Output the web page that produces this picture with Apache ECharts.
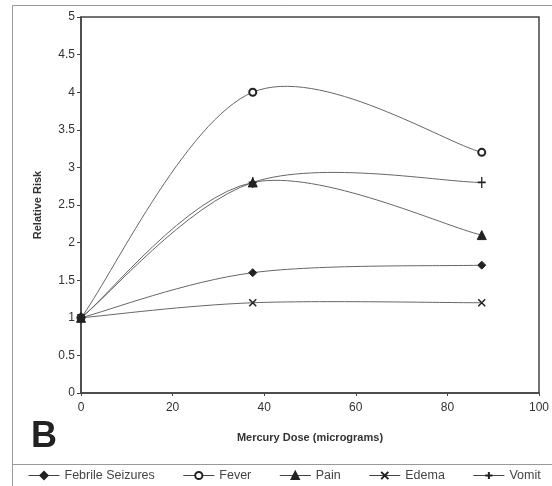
<!DOCTYPE html>
<html>
<head>
<meta charset="utf-8">
<script src="https://cdn.jsdelivr.net/npm/echarts@6/dist/echarts.min.js"></script>
<style>
html,body{margin:0;padding:0;background:#fff;}
#chart{width:552px;height:486px;}
</style>
</head>
<body>
<div id="chart"></div>
<script>
const doses = [0, 37.5, 87.5];
const seriesNames = ['Febrile Seizures', 'Fever', 'Pain', 'Edema', 'Vomit'];
const febrileSeizures = [1, 1.6, 1.7];
const fever = [1, 4, 3.2];
const pain = [1, 2.8, 2.1];
const edema = [1, 1.2, 1.2];
const vomit = [1, 2.8, 2.8];
const xTitle = 'Mercury Dose (micrograms)';
const yTitle = 'Relative Risk';
const panelLabel = 'B';

const values = [febrileSeizures, fever, pain, edema, vomit];
const symbols = [
  {symbol: 'diamond', size: 8, fill: '#222'},
  {symbol: 'emptyCircle', size: 7, fill: '#222'},
  {symbol: 'triangle', size: 9, fill: '#222'},
  {symbol: 'path://M0,0 L10,10 M10,0 L0,10', size: 7, fill: 'none'},
  {symbol: 'path://M5,0 L5,10 M0,5 L10,5', size: [8, 11], fill: 'none'}
];

const font = 'Liberation Sans, Arial, sans-serif';
const chart = echarts.init(document.getElementById('chart'), null, {renderer: 'canvas'});

// Excel-style smoothed segment between data points j and j+1, positioned via the axes
function makeCurveRenderer(vals) {
  return function (params, api) {
    const j = params.dataIndex;
    const n = doses.length;
    if (j >= n - 1) return null;
    const pts = doses.map((d, k) => api.coord([d, vals[k]]));
    const p0 = pts[Math.max(j - 1, 0)];
    const p1 = pts[j];
    const p2 = pts[j + 1];
    const p3 = pts[Math.min(j + 2, n - 1)];
    return {
      type: 'bezierCurve',
      shape: {
        x1: p1[0], y1: p1[1], x2: p2[0], y2: p2[1],
        cpx1: p1[0] + (p2[0] - p0[0]) / 6, cpy1: p1[1] + (p2[1] - p0[1]) / 6,
        cpx2: p2[0] - (p3[0] - p1[0]) / 6, cpy2: p2[1] - (p3[1] - p1[1]) / 6
      },
      style: {stroke: '#666', fill: null, lineWidth: 1},
      silent: true
    };
  };
}

const curveSeries = seriesNames.map((name, i) => ({
  name: 'curve ' + name,
  type: 'custom',
  renderItem: makeCurveRenderer(values[i]),
  data: doses.map((d, j) => [d, values[i][j]]),
  encode: {x: 0, y: 1},
  z: 1,
  silent: true
}));

const markerSeries = seriesNames.map((name, i) => ({
  name: name,
  type: 'line',
  data: doses.map((d, j) => [d, values[i][j]]),
  symbol: symbols[i].symbol,
  symbolSize: symbols[i].size,
  showAllSymbol: true,
  lineStyle: {color: '#666', width: 1, opacity: 0},
  itemStyle: {color: symbols[i].fill, borderColor: '#222', borderWidth: (i === 3 || i === 4) ? 1.5 : 1},
  z: 3
}));

chart.setOption({
  animation: false,
  textStyle: {fontFamily: font},
  grid: {left: 81, right: 13, top: 17, bottom: 93, show: true, borderColor: '#444', borderWidth: 1.5},
  xAxis: {
    type: 'value', min: 0, max: 100, interval: 20,
    name: xTitle, nameLocation: 'middle', nameGap: 39,
    nameTextStyle: {fontWeight: 'bold', fontSize: 11, color: '#333'},
    axisLine: {show: true, lineStyle: {color: '#444', width: 1.5}},
    axisTick: {show: true, length: 3, lineStyle: {color: '#444'}},
    axisLabel: {fontSize: 12, color: '#333', margin: 9},
    splitLine: {show: false}
  },
  yAxis: {
    type: 'value', min: 0, max: 5, interval: 0.5,
    name: yTitle, nameLocation: 'middle', nameGap: 38, nameRotate: 90,
    nameTextStyle: {fontWeight: 'bold', fontSize: 11, color: '#333'},
    axisLine: {show: true, lineStyle: {color: '#444', width: 1.5}},
    axisTick: {show: true, length: 4, lineStyle: {color: '#444'}},
    axisLabel: {fontSize: 12, color: '#333', margin: 6},
    splitLine: {show: false}
  },
  legend: {
    bottom: 4, left: 28, padding: 0,
    itemWidth: 31, itemHeight: 9, itemGap: 28,
    textStyle: {fontSize: 12.5, color: '#444'},
    lineStyle: {color: '#444', width: 1, opacity: 1},
    data: seriesNames
  },
  graphic: [
    {type: 'rect', shape: {x: 12.5, y: 5.5, width: 545, height: 490}, style: {fill: 'none', stroke: '#999', lineWidth: 1}, silent: true, z: -1},
    {type: 'line', shape: {x1: 12, y1: 464.5, x2: 552, y2: 464.5}, style: {stroke: '#999', lineWidth: 1}, silent: true},
    {type: 'text', left: 31, top: 419, style: {text: panelLabel, font: 'bold 36px Liberation Sans, Arial, sans-serif', fill: '#222'}}
  ],
  series: markerSeries.concat(curveSeries)
});
</script>
</body>
</html>
